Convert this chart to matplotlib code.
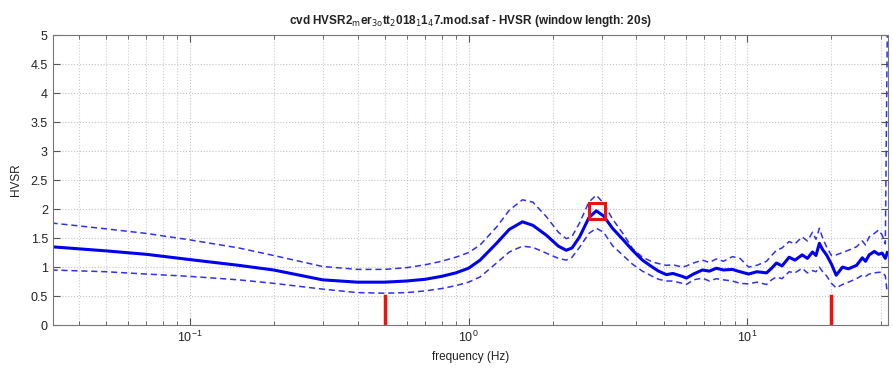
import numpy as np
import matplotlib
matplotlib.use('Agg')
import matplotlib.pyplot as plt
from matplotlib.ticker import LogLocator, NullFormatter

plt.rcParams['font.family'] = ['Liberation Sans', 'DejaVu Sans']

# frequency grid (Hz)
freq = [0.032, 0.05, 0.07, 0.1, 0.15, 0.2, 0.3, 0.4, 0.5, 0.6, 0.7, 0.8, 0.9, 1.0,
        1.1, 1.26, 1.4, 1.56, 1.7, 1.9, 2.1, 2.24, 2.35, 2.5, 2.7, 2.87, 3.05, 3.28,
        3.6, 3.87, 4.2, 4.56, 4.8, 5.12, 5.4, 5.84, 6.04, 6.4, 6.89, 7.3, 7.73, 8.2,
        8.83, 9.4, 10.1, 10.8, 11.7, 12.2, 12.7, 13.3, 14.1, 14.8, 15.7, 16.4, 17.1,
        17.6, 18.1, 18.6, 19.2, 20.0, 20.8, 21.9, 23.0, 24.6, 25.8, 26.5, 27.3, 28.5,
        29.5, 30.4, 31.2, 31.7]

hvsr_mean = [1.35, 1.28, 1.22, 1.13, 1.03, 0.95, 0.78, 0.74, 0.74, 0.76, 0.79, 0.84, 0.90, 0.98,
             1.12, 1.41, 1.65, 1.78, 1.72, 1.55, 1.36, 1.29, 1.33, 1.52, 1.85, 1.97, 1.88, 1.67,
             1.46, 1.29, 1.12, 1.00, 0.93, 0.87, 0.89, 0.84, 0.81, 0.88, 0.95, 0.93, 0.98, 0.95,
             0.96, 0.92, 0.88, 0.92, 0.90, 0.98, 1.07, 1.02, 1.17, 1.12, 1.21, 1.15, 1.26,
             1.20, 1.41, 1.30, 1.21, 1.05, 0.86, 1.00, 0.97, 1.03, 1.16, 1.10, 1.21, 1.27,
             1.22, 1.24, 1.15, 1.25]

hvsr_up = [1.76, 1.66, 1.58, 1.47, 1.33, 1.20, 1.01, 0.96, 0.96, 0.99, 1.04, 1.10, 1.17, 1.25,
           1.38, 1.69, 1.98, 2.16, 2.12, 1.87, 1.60, 1.49, 1.53, 1.76, 2.12, 2.24, 2.10, 1.83,
           1.56, 1.32, 1.17, 1.09, 1.06, 1.03, 1.04, 1.00, 1.02, 1.07, 1.12, 1.08, 1.14, 1.10,
           1.18, 1.15, 1.00, 1.03, 1.10, 1.20, 1.29, 1.33, 1.44, 1.40, 1.52, 1.45, 1.60,
           1.48, 1.67, 1.50, 1.35, 1.20, 1.21, 1.25, 1.29, 1.35, 1.45, 1.38, 1.52, 1.58,
           1.64, 1.55, 1.40, 5.0]

hvsr_low = [0.95, 0.92, 0.88, 0.84, 0.78, 0.72, 0.62, 0.56, 0.55, 0.56, 0.59, 0.63, 0.68, 0.74,
            0.83, 1.07, 1.26, 1.36, 1.34, 1.24, 1.15, 1.12, 1.17, 1.34, 1.58, 1.67, 1.60, 1.37,
            1.19, 1.05, 0.93, 0.84, 0.79, 0.76, 0.76, 0.72, 0.70, 0.78, 0.81, 0.76, 0.80, 0.78,
            0.76, 0.72, 0.71, 0.74, 0.70, 0.78, 0.83, 0.80, 0.92, 0.90, 0.98, 0.90, 0.94,
            0.92, 1.00, 0.92, 0.85, 0.72, 0.64, 0.70, 0.74, 0.80, 0.86, 0.84, 0.88, 0.90,
            0.91, 0.91, 0.85, 0.55]

# frequency window limits (red bars) and the picked peak (red square)
win_freq = [0.5, 20.0]
win_height = 0.5
peak_freq = 2.88
peak_hvsr = 1.97

fig = plt.figure(figsize=(8.93, 3.69), dpi=100)
ax = fig.add_axes([0.059, 0.119, 0.935, 0.786])

ax.semilogx(freq, hvsr_up, color='#3030f0', lw=1.1, ls=(0, (4, 2.5)))
ax.semilogx(freq, hvsr_low, color='#3030f0', lw=1.1, ls=(0, (4, 2.5)))
ax.semilogx(freq, hvsr_mean, color='#0000ee', lw=2.2)

for f in win_freq:
    ax.plot([f, f], [0, win_height], color='#ee1111', lw=2.5)
ax.plot(peak_freq, peak_hvsr, 's', ms=11, mfc='none', mec='#ee1111', mew=2.2)

ax.set_xlim(0.0323, 31.8)
ax.set_ylim(0, 5)
ax.set_yticks(np.arange(0, 5.01, 0.5))
ax.set_yticklabels(['0', '0.5', '1', '1.5', '2', '2.5', '3', '3.5', '4', '4.5', '5'])
ax.xaxis.set_major_locator(LogLocator(base=10, numticks=10))
ax.xaxis.set_minor_locator(LogLocator(base=10, subs=np.arange(2, 10), numticks=20))
ax.xaxis.set_minor_formatter(NullFormatter())

ax.grid(True, which='major', ls=':', color='#c4c4c4', lw=0.8)
ax.grid(True, which='minor', axis='x', ls=':', color='#cccccc', lw=0.8)
ax.tick_params(which='both', direction='in', top=True, right=True, color='#555555',
               labelsize=9, labelcolor='#222222')
ax.tick_params(which='major', length=5)
ax.tick_params(which='minor', length=3)
for s in ax.spines.values():
    s.set_color('#777777')
    s.set_linewidth(0.8)

ax.set_xlabel('frequency (Hz)', fontsize=8.5, color='#222222', labelpad=4)
ax.set_ylabel('HVSR', fontsize=8.5, color='#222222', labelpad=6)
ax.set_title(r'cvd HVSR2$_\mathrm{m}$er$_\mathrm{3o}$tt$_\mathrm{2}$018$_\mathrm{1}$1$_\mathrm{4}$7.mod.saf - HVSR (window length: 20s)',
             fontsize=8.5, fontweight='bold', color='#222222', pad=8)

fig.savefig('out.png', dpi=100)
